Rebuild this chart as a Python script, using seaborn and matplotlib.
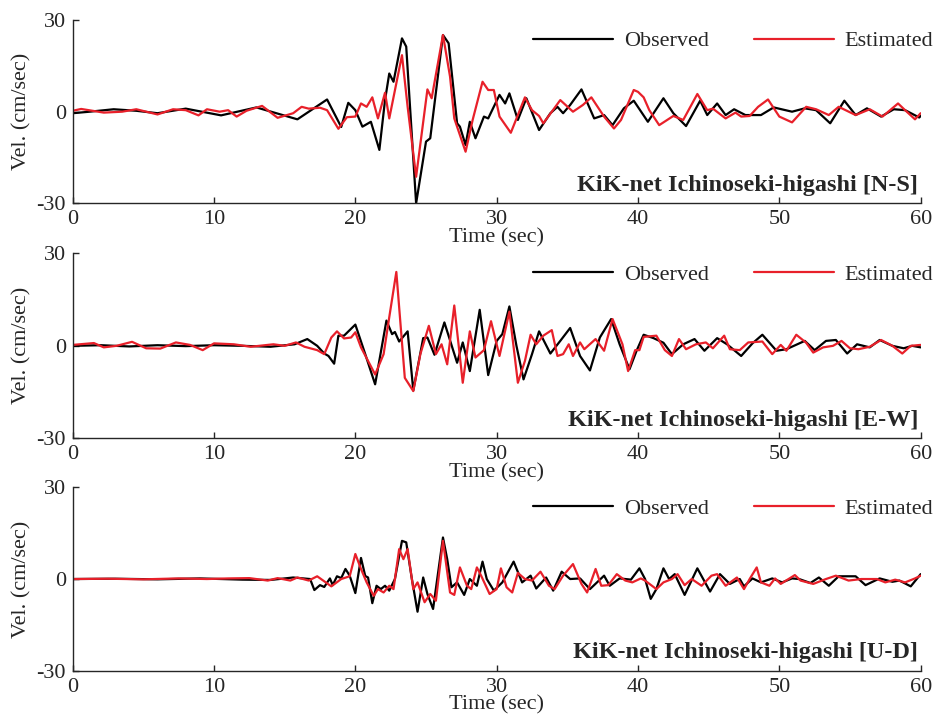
import matplotlib
matplotlib.use("Agg")
import matplotlib.pyplot as plt
import seaborn as sns
import pandas as pd

# Velocity waveforms (time [s], velocity [cm/s]) for each component
ns_observed = [
    (0, -0.5), (1.2, 0), (2.9, 0.8), (4.5, 0.3), (6.0, -0.5), (8.0, 1.0), (10.5, -1.2),
    (13.0, 1.4), (15.9, -2.5), (18.0, 4.0), (19.0, -5.0), (19.5, 2.9), (20.0, 0.5),
    (20.5, -4.9), (21.1, -3.3), (21.7, -12.5), (22.1, 3.8), (22.4, 12.5), (22.7, 9.8),
    (23.3, 24.0), (23.6, 21.3), (24.3, -30.0), (25.0, -9.8), (25.3, -8.7), (26.2, 25.1),
    (26.6, 22.4), (27.2, -3.8), (27.4, -4.9), (27.8, -10.9), (28.1, -3.3), (28.5, -8.7),
    (29.1, -1.6), (29.4, -2.2), (30.2, 5.5), (30.6, 2.7), (30.9, 6.0), (31.5, -2.7),
    (32.1, 4.4), (33.0, -6.0), (33.8, -0.5), (34.3, 1.6), (34.7, -0.5), (35.2, 2.2),
    (36.0, 7.3), (36.9, -2.2), (37.6, -1.1), (38.2, -4.4), (39.0, 1.1), (39.7, 3.6),
    (40.7, -3.3), (41.8, 4.4), (42.5, -0.5), (43.4, -4.7), (44.4, 3.6), (44.9, -1.1),
    (45.6, 2.7), (46.2, -1.1), (46.8, 0.8), (47.6, -1.1), (48.7, -1.1), (49.6, 1.4),
    (50.9, 0), (51.8, 1.1), (52.6, 0.5), (53.6, -3.8), (54.6, 3.6), (55.4, -1.1),
    (56.2, 1.1), (57.2, -1.6), (58.1, 0.8), (58.9, 0.5), (59.9, -1.9), (60.0, -1.4),
]
ns_estimated = [
    (0, 0.3), (0.6, 0.9), (2.2, -0.3), (3.5, 0), (4.5, 0.8), (6.0, -0.9), (7.1, 0.8),
    (8.0, 0.5), (8.9, -1.2), (9.5, 0.8), (10.4, 0), (11.0, 0.5), (11.6, -1.6), (12.3, 0.3),
    (13.4, 1.9), (14.5, -2.0), (15.6, -0.5), (16.2, 1.6), (16.7, 1.0), (17.5, 1.3),
    (18.0, 0.5), (18.8, -5.6), (19.4, -1.8), (20.0, -1.6), (20.4, 2.7), (20.8, 1.6),
    (21.2, 4.7), (21.6, -2.2), (22.1, 6.2), (22.4, -2.2), (23.3, 18.5), (23.7, 1.6),
    (24.3, -21.3), (25.1, 7.3), (25.4, 4.4), (26.2, 25.1), (26.7, 11.5), (27.0, -2.2),
    (27.8, -13.1), (28.3, -2.7), (29.0, 9.8), (29.4, 7.1), (29.8, 7.1), (30.2, -1.6),
    (31.0, -6.9), (32.0, 4.7), (32.5, 0.5), (33.0, -1.4), (33.3, -3.8), (34.5, 3.8),
    (35.4, 0), (36.1, 2.2), (36.7, 4.7), (37.6, -1.6), (38.3, -5.5), (38.8, -2.7),
    (39.7, 7.1), (40.0, 6.5), (40.4, 4.7), (40.8, 0.5), (41.5, -4.4), (42.5, -1.4),
    (43.2, -2.7), (44.2, 5.8), (44.9, 0.5), (45.3, 1.0), (46.2, -2.2), (46.9, -0.3),
    (47.3, -1.6), (47.9, -1.4), (48.5, 1.6), (49.2, 4.0), (50.0, -1.6), (50.9, -3.5),
    (51.9, 1.6), (52.6, 0.8), (53.5, -1.1), (54.2, 1.6), (55.4, -1.1), (56.4, 0.8),
    (57.3, -1.6), (58.4, 2.7), (58.9, 0.5), (59.6, -2.5), (60.0, -0.5),
]

ew_observed = [
    (0, 0), (2, 0.2), (4, -0.2), (6, 0.2), (8, -0.1), (10, 0.2), (12, 0), (14, -0.3),
    (15.7, 0.5), (16.6, 2.2), (17.3, 0), (17.8, -2.5), (18.1, -3.3), (18.5, -5.8),
    (18.8, 3.3), (19.2, 3.3), (20.0, 6.9), (20.7, -2.7), (21.4, -12.5), (22.2, 8.2),
    (22.6, 3.8), (22.8, 4.5), (23.1, 1.4), (23.7, 4.7), (24.1, -14.5), (24.8, 2.5),
    (25.1, 2.7), (25.6, -2.9), (26.3, 7.6), (27.2, -5.5), (27.6, 1.1), (28.1, -8.2),
    (28.8, 11.7), (29.4, -9.5), (30.0, 1.6), (30.4, 3.8), (30.9, 12.8), (31.4, 0),
    (31.9, -10.9), (32.5, -2.7), (33.0, 4.7), (33.8, -2.5), (34.5, 1.6), (35.2, 5.8),
    (35.9, -3.3), (36.6, -8.0), (37.3, 2.7), (38.1, 8.7), (38.7, 0.5), (39.4, -7.6),
    (39.9, -1.6), (40.4, 3.6), (41.1, 2.5), (41.8, 1.0), (42.4, -2.7), (43.2, 0.5),
    (44.0, 2.2), (44.7, -1.6), (45.6, 2.5), (46.3, 0.5), (47.3, -3.3), (48.1, 0.8),
    (48.8, 3.6), (49.8, -1.6), (50.5, -1.1), (51.8, 1.6), (52.5, -1.4), (53.3, 1.6),
    (54.0, 1.9), (54.8, -2.5), (55.5, 0.5), (56.4, -0.5), (57.1, 1.9), (58.0, 0),
    (58.8, -0.8), (59.4, 0), (60.0, -0.5),
]
ew_estimated = [
    (0, 0.3), (1.5, 0.9), (2.2, -0.5), (3.1, 0), (4.2, 1.3), (5.2, -0.8), (6.2, -0.9),
    (7.3, 1.1), (8.3, 0.3), (9.2, -1.4), (10.0, 0.8), (11.4, 0.5), (12.6, -0.3),
    (14.2, 0.5), (15.0, 0), (15.8, 1.1), (16.4, -0.3), (17.3, -1.4), (17.8, -2.7),
    (18.3, 2.7), (18.7, 4.7), (19.2, 2.4), (19.7, 2.7), (20.0, 4.4), (20.4, -0.5),
    (21.4, -9.3), (22.0, -2.7), (22.4, 9.3), (22.9, 24.0), (23.5, -10.4), (24.1, -14.7),
    (24.6, -2.7), (25.2, 6.5), (25.7, -2.7), (26.1, 0.5), (26.5, -6.0), (27.0, 13.1),
    (27.6, -12.0), (28.1, 4.7), (28.5, -3.8), (29.1, -1.4), (29.6, 8.0), (30.2, -3.3),
    (30.9, 11.1), (31.5, -12.0), (32.0, -4.9), (32.4, 3.6), (32.8, 0.5), (33.3, 3.3),
    (33.9, 5.1), (34.3, -3.3), (34.7, -2.7), (35.1, 0.5), (35.4, -3.3), (35.9, 1.1),
    (36.2, -1.1), (37.0, 2.2), (37.6, -1.6), (38.2, 8.7), (38.9, 0.5), (39.3, -8.2),
    (39.8, -1.4), (40.1, -1.4), (40.4, 2.9), (41.3, 3.3), (41.9, -1.4), (42.4, -3.3),
    (42.9, 2.2), (43.4, -1.1), (44.1, 0.5), (44.8, 1.1), (45.3, -0.8), (46.1, 3.3),
    (46.5, -1.1), (47.2, -1.4), (47.8, 1.1), (48.8, 1.4), (49.5, -2.7), (50.1, 0.3),
    (50.5, -1.6), (51.2, 3.6), (51.9, 1.0), (52.4, -2.2), (53.1, -0.5), (53.8, 0),
    (54.4, 1.6), (55.0, -0.8), (55.6, -1.1), (56.4, -0.3), (57.2, 1.9), (58.0, 0),
    (58.7, -2.5), (59.3, 0), (60.0, 0.3),
]

ud_observed = [
    (0, 0), (3, 0.1), (6, -0.1), (9, 0.2), (12, -0.2), (14, -0.3), (15.6, 0.5),
    (16.8, 0), (17.1, -3.6), (17.5, -2.0), (17.8, -2.6), (18.2, 0.2), (18.4, -2.0),
    (18.7, 0.9), (19.0, 0.3), (19.3, 3.3), (19.6, 1.1), (20.0, -4.6), (20.4, 6.9),
    (20.7, 1.0), (20.9, 0.5), (21.2, -7.9), (21.5, -2.2), (21.8, -3.3), (22.1, -2.2),
    (22.4, -3.8), (22.8, 0), (23.3, 12.5), (23.6, 12.0), (24.0, 0), (24.4, -10.7),
    (24.8, 0.5), (25.1, -4.9), (25.5, -9.8), (26.2, 13.6), (26.5, 6.5), (26.8, -2.7),
    (27.2, -1.1), (27.7, -5.2), (28.1, 0), (28.6, -2.2), (29.0, 5.7), (29.3, 0),
    (29.8, -3.8), (30.4, -1.1), (31.2, 5.7), (31.8, -1.1), (32.4, 1.1), (32.8, -3.1),
    (33.5, 0.5), (34.0, -3.8), (34.6, 2.4), (35.2, 0), (35.9, 0.2), (36.6, -3.3),
    (37.6, 1.1), (38.0, -2.2), (38.7, 0.2), (39.5, -0.2), (40.1, 3.5), (40.5, 0),
    (40.9, -6.5), (41.3, -3.3), (41.8, 3.5), (42.2, 0), (42.6, 1.6), (43.3, -5.2),
    (44.2, 3.5), (45.1, -4.1), (45.8, 1.6), (46.5, -1.6), (47.2, 0), (47.5, -2.4),
    (48.1, 0.2), (48.7, -1.1), (49.5, 0.2), (50.2, -1.1), (50.9, 0.2), (51.4, 0),
    (52.2, -1.3), (52.8, 0.5), (53.5, -2.2), (54.2, 0.9), (55.4, 0.9), (56.1, -2.0),
    (57.1, 0.2), (58.0, -0.9), (58.5, -0.5), (59.3, -2.4), (60.0, 1.6),
]
ud_estimated = [
    (0, 0), (2.5, 0.1), (5, -0.1), (7.5, 0.2), (9.5, 0), (11, 0.2), (12.5, 0.3),
    (13.8, -0.5), (14.5, 0.3), (15.4, -0.5), (15.9, 0.5), (16.7, -0.5), (17.3, 0.9),
    (18.3, -2.4), (19.0, 0), (19.6, 0.9), (20.0, 8.2), (20.4, 3.3), (20.8, -1.1),
    (21.3, -5.5), (21.6, -3.3), (22.0, -4.4), (22.4, -2.2), (22.7, -3.3), (23.1, 9.8),
    (23.4, 6.5), (23.7, 9.8), (24.1, -3.3), (24.4, -1.1), (24.9, -7.6), (25.3, -4.9),
    (25.7, -7.1), (26.2, 12.5), (26.7, -4.4), (27.0, -5.2), (27.4, 3.8), (27.9, -2.2),
    (28.2, -3.3), (28.6, 3.8), (28.9, 1.1), (29.5, -4.9), (30.0, -3.3), (30.3, 3.5),
    (30.7, -2.7), (31.1, -4.4), (31.5, 2.0), (32.0, 0), (32.5, -0.5), (33.1, 2.4),
    (33.7, -2.2), (34.1, -3.3), (34.7, 1.1), (35.4, 4.9), (36.0, -1.6), (36.4, -4.4),
    (37.0, 3.3), (37.4, -2.2), (37.9, -2.0), (38.5, 1.6), (39.1, -0.5), (39.6, -1.1),
    (40.2, 0.2), (40.5, -0.5), (41.3, -3.3), (41.8, -1.1), (42.4, 0), (42.8, 1.6),
    (43.3, -2.0), (43.8, 0), (44.5, -2.2), (45.2, 1.1), (45.6, 1.6), (46.2, -2.2),
    (47.0, 0.5), (47.5, -3.3), (47.9, 0), (48.4, 3.8), (48.7, -1.1), (49.3, -2.2),
    (49.7, 0.2), (50.1, -1.6), (51.1, 1.3), (51.5, -0.5), (52.4, -1.6), (53.3, 0),
    (54.0, 1.1), (54.9, -0.5), (55.8, 0), (56.9, 0), (57.5, -1.1), (58.2, -0.2),
    (58.9, -1.1), (59.6, 0.2), (60.0, 1.1),
]

components = ["N-S", "E-W", "U-D"]
series_names = ["Observed", "Estimated"]
station = "KiK-net Ichinoseki-higashi"
x_ticks = [0, 10, 20, 30, 40, 50, 60]
y_ticks = [-30, 0, 30]

waveforms = {
    "N-S": (ns_observed, ns_estimated),
    "E-W": (ew_observed, ew_estimated),
    "U-D": (ud_observed, ud_estimated),
}

sns.set_style("ticks")
plt.rcParams["font.family"] = ["Liberation Serif", "DejaVu Serif"]
plt.rcParams["axes.linewidth"] = 1.0
plt.rcParams["axes.unicode_minus"] = False

palette = {"Observed": "black", "Estimated": "#e8202a"}
FS = 16

fig = plt.figure(figsize=(9.38, 7.16), dpi=100)
# axes boxes: [left, bottom, width, height] in figure fraction
boxes = [
    [0.0775, 0.716, 0.904, 0.256],
    [0.0775, 0.388, 0.904, 0.258],
    [0.0775, 0.0633, 0.904, 0.256],
]

for comp, box in zip(components, boxes):
    ax = fig.add_axes(box)
    obs, est = waveforms[comp]
    frame = pd.concat([
        pd.DataFrame(obs, columns=["time", "vel"]).assign(series="Observed"),
        pd.DataFrame(est, columns=["time", "vel"]).assign(series="Estimated"),
    ], ignore_index=True)
    sns.lineplot(data=frame, x="time", y="vel", hue="series", hue_order=series_names,
                 palette=palette, estimator=None, sort=False, linewidth=1.6,
                 legend=False, ax=ax)

    ax.set_xlim(0, 60)
    ax.set_ylim(-30, 30)
    ax.set_xticks(x_ticks)
    ax.set_yticks(y_ticks)
    ax.tick_params(direction="in", length=4, width=1, labelsize=FS, pad=5)
    sns.despine(ax=ax)

    ax.set_xlabel("Time (sec)", fontsize=FS)
    ax.set_ylabel("Vel. (cm/sec)", fontsize=FS)
    ax.xaxis.set_label_coords(0.5, -0.135)
    ax.yaxis.set_label_coords(-0.049, 0.5)

    handles = ax.get_lines()[:2]
    ax.legend(handles, series_names, loc="center left", bbox_to_anchor=(0.543, 0.885),
              frameon=False, ncol=2, fontsize=FS, handlelength=3.6,
              handletextpad=0.5, columnspacing=2.0, borderaxespad=0,
              borderpad=0)

    ax.text(0.997, 0.04, f"{station} [{comp}]", transform=ax.transAxes,
            ha="right", va="bottom", fontsize=17.5, fontweight="bold")

fig.savefig("out.png", dpi=100)
